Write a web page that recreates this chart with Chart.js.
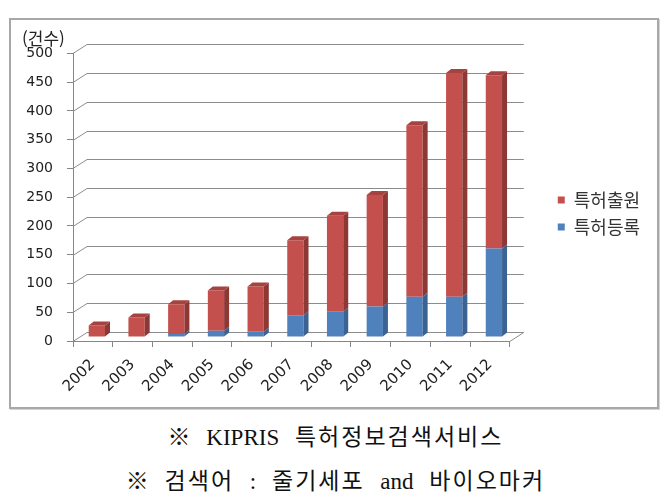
<!DOCTYPE html>
<html lang="ko">
<head>
<meta charset="utf-8">
<title>특허출원 / 특허등록 건수</title>
<script src="https://cdn.jsdelivr.net/npm/chart.js@4/dist/chart.umd.min.js"></script>
<style>
    html, body {
        margin: 0;
        padding: 0;
        background: #ffffff;
    }
    .frame {
        position: absolute;
        left: 9px;
        top: 18px;
        width: 646px;
        height: 387px;
        border: 2px solid #a8a8a8;
        box-shadow: 1px 1px 0 #d4d4d4;
    }
    .caption {
        position: absolute;
        left: 0;
        width: 671px;
        text-align: center;
        font-family: 'Liberation Serif', 'Noto Sans CJK KR', serif;
        font-size: 23px;
        line-height: 28px;
        color: #111;
        word-spacing: 10px;
    }
    .caption .ko {
        letter-spacing: 2px;
    }
</style>
</head>
<body>
<div class="frame">
    <canvas id="chart" width="646" height="387"></canvas>
</div>
<div class="caption" style="top: 424px;">※ KIPRIS <span class="ko">특허정보검색서비스</span></div>
<div class="caption" style="top: 468px;">※ <span class="ko">검색어</span> : <span class="ko">줄기세포</span> and <span class="ko">바이오마커</span></div>

<script>
// Data
const years = ['2002', '2003', '2004', '2005', '2006', '2007', '2008', '2009', '2010', '2011', '2012'];
const registered = [0, 1, 5, 11, 9, 38, 44, 53, 70, 70, 154];          // 특허등록 (blue, bottom)
const applied = [20, 33, 52, 70, 79, 130, 167, 194, 298, 389, 301];     // 특허출원 (red, stacked on top)
const yTicks = { min: 0, max: 500, step: 50 };

const RED = '#c4504d';
const BLUE = '#4f81bd';

/**
 * Fake Excel style 3D look: back wall gridlines, bars pushed into the depth,
 * plus right side faces and top caps on every bar.
 */
const depthPlugin = {
    id: 'depth',
    wall: { dx: 14, dy: -9 },
    bar: { dx: 4, dy: -4 },
    face: { dx: 5, dy: -4 },
    shades: {
        [RED]: { side: '#8e3836', top: '#a6423f' },
        [BLUE]: { side: '#3a6394', top: '#4571a6' }
    },

    beforeDatasetsDraw(chart) {
        const ctx = chart.ctx;
        const y = chart.scales.y;
        const { left, right, bottom } = chart.chartArea;
        const w = this.wall;

        ctx.save();
        ctx.strokeStyle = '#8c8c8c';
        ctx.lineWidth = 1;
        y.ticks.forEach(t => {
            const py = Math.round(y.getPixelForValue(t.value)) + 0.5;
            ctx.beginPath();
            ctx.moveTo(left, py);
            ctx.lineTo(left + w.dx, py + w.dy);
            ctx.lineTo(right + w.dx, py + w.dy);
            ctx.stroke();
        });
        // floor edge on the right
        ctx.beginPath();
        ctx.moveTo(right, bottom + 0.5);
        ctx.lineTo(right + w.dx, bottom + 0.5 + w.dy);
        ctx.stroke();
        ctx.restore();

        // bars sit a little behind the front axis
        ctx.save();
        ctx.translate(this.bar.dx, this.bar.dy);
    },

    afterDatasetsDraw(chart) {
        const ctx = chart.ctx;
        const f = this.face;
        const metas = chart.getSortedVisibleDatasetMetas();

        years.forEach((_, i) => {
            // topmost non-empty segment gets the cap
            let topIdx = -1;
            metas.forEach((meta, k) => {
                if (chart.data.datasets[meta.index].data[i] > 0) topIdx = k;
            });

            metas.forEach((meta, k) => {
                const el = meta.data[i];
                const value = chart.data.datasets[meta.index].data[i];
                if (!el || !(value > 0)) return;
                const color = chart.data.datasets[meta.index].backgroundColor;
                const shade = this.shades[color];
                const x0 = el.x - el.width / 2;
                const x1 = el.x + el.width / 2;
                const yTop = el.y;
                const yBase = el.base;

                ctx.fillStyle = shade.side;
                ctx.beginPath();
                ctx.moveTo(x1, yTop);
                ctx.lineTo(x1 + f.dx, yTop + f.dy);
                ctx.lineTo(x1 + f.dx, yBase + f.dy);
                ctx.lineTo(x1, yBase);
                ctx.closePath();
                ctx.fill();

                if (k === topIdx) {
                    ctx.fillStyle = shade.top;
                    ctx.beginPath();
                    ctx.moveTo(x0, yTop);
                    ctx.lineTo(x0 + f.dx, yTop + f.dy);
                    ctx.lineTo(x1 + f.dx, yTop + f.dy);
                    ctx.lineTo(x1, yTop);
                    ctx.closePath();
                    ctx.fill();
                }
            });
        });

        ctx.restore();
    }
};

const axisFont = { family: "'DejaVu Sans', Verdana, sans-serif", size: 14 };
const axisColor = '#868686';

new Chart(document.getElementById('chart').getContext('2d'), {
    type: 'bar',
    data: {
        labels: years,
        datasets: [
            {
                label: '특허등록',
                data: registered,
                backgroundColor: BLUE,
                borderWidth: 0
            },
            {
                label: '특허출원',
                data: applied,
                backgroundColor: RED,
                borderWidth: 0
            }
        ]
    },
    options: {
        responsive: false,
        animation: false,
        datasets: {
            bar: {
                categoryPercentage: 1,
                barPercentage: 0.41
            }
        },
        layout: {
            padding: { left: 11, right: 7, top: 0, bottom: 0 }
        },
        plugins: {
            tooltip: { enabled: false },
            title: {
                display: true,
                text: '(건수)',
                align: 'start',
                color: '#222',
                font: { family: "'Noto Sans CJK KR', sans-serif", size: 17, weight: 'normal' },
                padding: { top: 8, bottom: 5 }
            },
            legend: {
                display: true,
                position: 'right',
                reverse: true,
                labels: {
                    boxWidth: 7,
                    boxHeight: 7,
                    padding: 9,
                    color: '#333',
                    font: { family: "'Noto Sans CJK KR', sans-serif", size: 18 }
                }
            }
        },
        scales: {
            x: {
                stacked: true,
                grid: {
                    offset: true,
                    drawOnChartArea: false,
                    drawTicks: true,
                    tickLength: 6,
                    color: axisColor
                },
                border: { display: true, color: axisColor },
                ticks: {
                    color: '#222',
                    font: { family: axisFont.family, size: 15 },
                    minRotation: 45,
                    maxRotation: 45,
                    padding: 9
                },
                afterFit(scale) {
                    scale.height = 66;
                }
            },
            y: {
                stacked: true,
                min: yTicks.min,
                max: yTicks.max,
                grid: {
                    drawOnChartArea: false,
                    drawTicks: true,
                    tickLength: 6,
                    color: axisColor
                },
                border: { display: true, color: axisColor },
                ticks: {
                    stepSize: yTicks.step,
                    color: '#222',
                    font: axisFont,
                    padding: 14
                },
                afterFit(scale) {
                    scale.width = 51;
                }
            },
            // empty axis that only keeps room for the 3D wall before the legend
            spacer: {
                type: 'linear',
                position: 'right',
                display: true,
                grid: { display: false, drawTicks: false },
                border: { display: false },
                ticks: { display: false },
                afterFit(scale) {
                    scale.width = 39;
                }
            }
        }
    },
    plugins: [depthPlugin]
});
</script>
</body>
</html>
